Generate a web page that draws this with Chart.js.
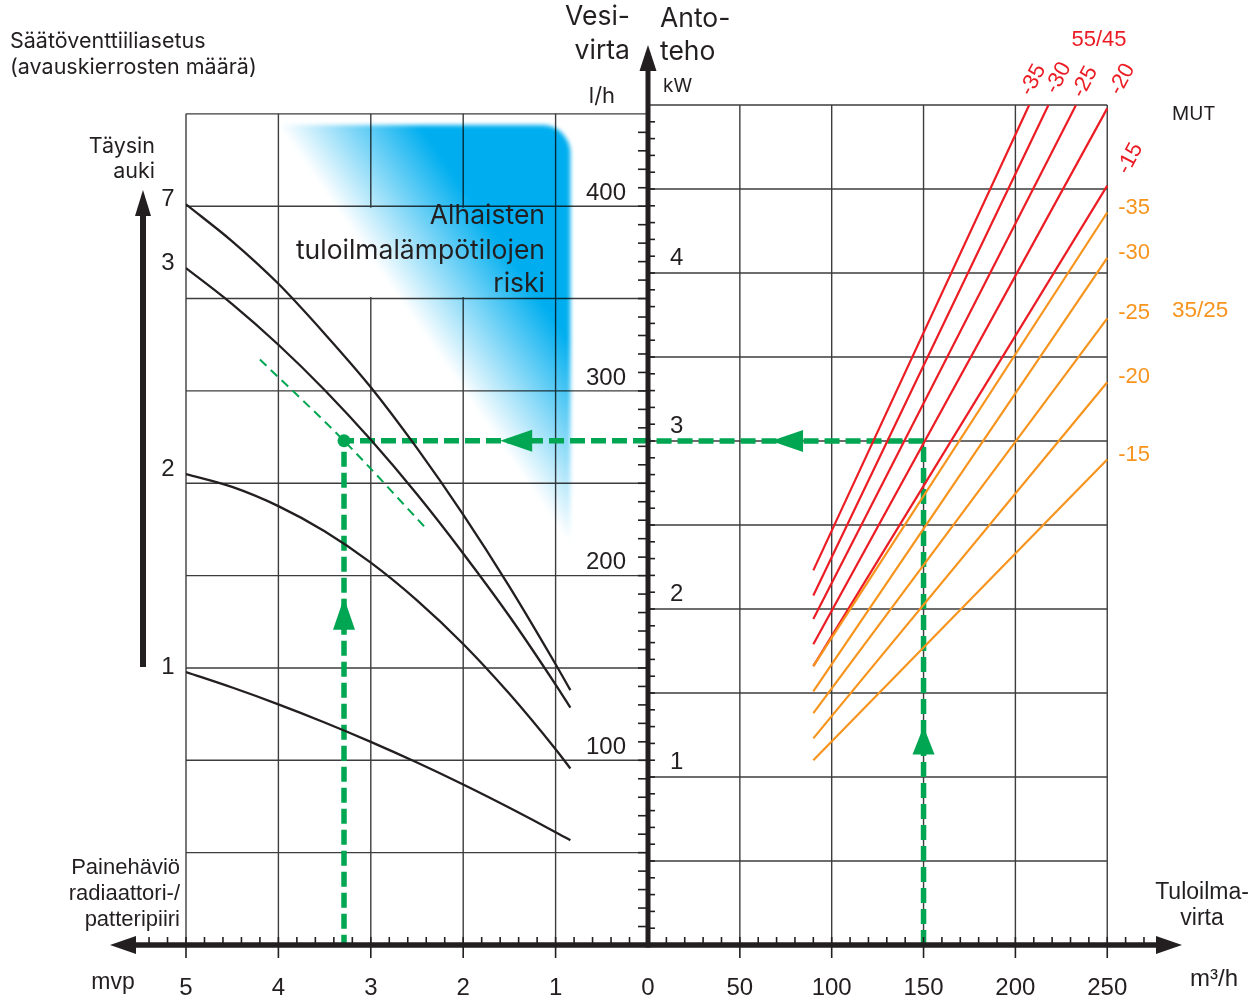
<!DOCTYPE html>
<html lang="fi">
<head>
<meta charset="utf-8">
<title>Säätöventtiiliasetus</title>
<script src="https://cdn.jsdelivr.net/npm/chart.js@4.4.1/dist/chart.umd.min.js"></script>
<style>
  html, body { margin: 0; padding: 0; background: #fff; }
  #chart { display: block; }
</style>
</head>
<body>
<canvas id="chart" width="1253" height="997"></canvas>
<script>
// tick labels
const mvpTicks = [5, 4, 3, 2, 1];
const airTicks = [50, 100, 150, 200, 250];
const flowTicks = [100, 200, 300, 400];
const powerTicks = [1, 2, 3, 4];

// painehäviö (mvp) vs vesivirta (l/h), one curve per valve setting
const valveSettings = ['7', '3', '2', '1'];
const curveMvp = [5, 4.5, 4, 3.5, 3, 2.5, 2, 1.5, 1, 0.84];
const flow7 = [401, 381, 358, 331, 302, 269, 233, 194, 152, 138];
const flow3 = [366.5, 347, 325, 300.5, 273.5, 244, 212, 178, 141, 128.5];
const flow2 = [255, 248, 237.6, 224, 207, 186.6, 163, 136, 106, 95.6];
const flow1 = [147.8, 139.4, 130.3, 120.5, 110, 98.8, 86.9, 74.3, 61.1, 56.7];

// antoteho (kW) vs tuloilmavirta (m3/h), one line per MUT
const mutLabels = ['-35', '-30', '-25', '-20', '-15'];
const airStart = 90;
const redKwStart = [2.23, 2.08, 1.94, 1.79, 1.66];      // 55/45
const redAirEnd = [207.5, 218, 233, 250, 250];
const redKwEnd = [5, 5, 5, 4.98, 4.52];
const orangeKwStart = [1.66, 1.51, 1.38, 1.23, 1.10];   // 35/25
const orangeAirEnd = [250, 250, 250, 250, 250];
const orangeKwEnd = [4.36, 4.09, 3.73, 3.35, 2.89];

// example reading (green)
const routeAir = 150, routePower = 3.0, routeFlow = 273, routeMvp = 3.29;
const guideMvp = [4.2, 3.29, 2.41];
const guideFlow = [317, 273, 226];
const arrowAir = [150, 67], arrowKw = [1.30, 3.0];
const arrowMvp = [1.6, 3.29], arrowFlow = [273, 188];

// low supply temperature risk zone
const riskMvp = [4.0, 0.84];
const riskFlow = [444, 217];

const BLACK = '#231f20', RED = '#ec1c24', ORANGE = '#f7941d', GREEN = '#00a651', GRID = '#3d3d3d';
const NUM = '"Liberation Sans", Arial, sans-serif';
const TXT = 'Inter, "Noto Sans", sans-serif';

const pts = (xs, ys) => xs.map((x, i) => ({ x: x, y: ys[i] }));
const P = (s, v) => s.getPixelForValue(v);

function seg(ctx, x1, y1, x2, y2) {
  ctx.beginPath(); ctx.moveTo(x1, y1); ctx.lineTo(x2, y2); ctx.stroke();
}
function head(ctx, tx, ty, dx, dy, len, half, color) {
  const bx = tx - dx * len, by = ty - dy * len;
  ctx.fillStyle = color;
  ctx.beginPath();
  ctx.moveTo(tx, ty);
  ctx.lineTo(bx - dy * half, by + dx * half);
  ctx.lineTo(bx + dy * half, by - dx * half);
  ctx.closePath();
  ctx.fill();
}
function text(ctx, str, x, y, font, color, align) {
  ctx.font = font;
  ctx.fillStyle = color;
  ctx.textAlign = align || 'center';
  ctx.textBaseline = 'middle';
  ctx.fillText(str, x, y);
}

const datasets = [];
[flow7, flow3, flow2, flow1].forEach(function (fl, i) {
  datasets.push({
    label: 'Säätö ' + valveSettings[i], data: pts(curveMvp, fl), xAxisID: 'xp', yAxisID: 'yL',
    borderColor: BLACK, borderWidth: 2.3, cubicInterpolationMode: 'monotone', pointRadius: 0
  });
});
mutLabels.forEach(function (m, i) {
  datasets.push({
    label: '35/25 ' + m, data: [{ x: airStart, y: orangeKwStart[i] }, { x: orangeAirEnd[i], y: orangeKwEnd[i] }],
    xAxisID: 'xq', yAxisID: 'yR', borderColor: ORANGE, borderWidth: 2.2, pointRadius: 0
  });
});
mutLabels.forEach(function (m, i) {
  datasets.push({
    label: '55/45 ' + m, data: [{ x: airStart, y: redKwStart[i] }, { x: redAirEnd[i], y: redKwEnd[i] }],
    xAxisID: 'xq', yAxisID: 'yR', borderColor: RED, borderWidth: 2.2, pointRadius: 0
  });
});
datasets.push({
  label: 'guide', data: pts(guideMvp, guideFlow), xAxisID: 'xp', yAxisID: 'yL',
  borderColor: GREEN, borderWidth: 2, borderDash: [9, 6], cubicInterpolationMode: 'monotone', pointRadius: 0
});
datasets.push({
  label: 'route right', data: [{ x: routeAir, y: 0 }, { x: routeAir, y: routePower }, { x: 0, y: routePower }],
  xAxisID: 'xq', yAxisID: 'yR', borderColor: GREEN, borderWidth: 5.5, borderDash: [15, 6], pointRadius: 0, tension: 0
});
datasets.push({
  label: 'route left', data: [{ x: 0, y: routeFlow }, { x: routeMvp, y: routeFlow }, { x: routeMvp, y: 0 }],
  xAxisID: 'xp', yAxisID: 'yL', borderColor: GREEN, borderWidth: 5.5, borderDash: [15, 6], pointRadius: 0, tension: 0
});
datasets.push({
  label: 'point', data: [{ x: routeMvp, y: routeFlow }], xAxisID: 'xp', yAxisID: 'yL',
  showLine: false, pointRadius: 6.5, pointBackgroundColor: GREEN, pointBorderWidth: 0
});

const overlay = {
  id: 'overlay',
  beforeDatasetsDraw(chart) {
    const ctx = chart.ctx;
    const { xp, xq, yL, yR } = chart.scales;
    const cx = P(xp, 0), base = P(yL, 0);
    ctx.save();
    ctx.strokeStyle = GRID;
    ctx.lineWidth = 1.4;
    // left panel grid
    const lx = P(xp, 5), ly = P(yL, 450);
    for (let f = 50; f <= 450; f += 50) seg(ctx, lx, P(yL, f), cx, P(yL, f));
    for (let m = 5; m >= 1; m--) seg(ctx, P(xp, m), ly, P(xp, m), base);
    // right panel grid
    const rx = P(xq, 250), ry = P(yR, 5);
    for (let k = 0.5; k <= 5.001; k += 0.5) seg(ctx, cx, P(yR, k), rx, P(yR, k));
    for (let a = 50; a <= 250; a += 50) seg(ctx, P(xq, a), ry, P(xq, a), base);
    // white box behind the zone text
    ctx.fillStyle = '#fff';
    ctx.fillRect(P(xp, 3.75), P(yL, 400) + 1.5, P(xp, 1.12) - P(xp, 3.75), P(yL, 350) - P(yL, 400) - 3);
    // risk zone
    const x1 = P(xp, riskMvp[0]), x2 = P(xp, riskMvp[1]);
    const y1 = P(yL, riskFlow[0]), y2 = P(yL, riskFlow[1]);
    const r = 28;
    const dx = x2 - x1, dy = y2 - y1, dl = Math.hypot(dx, dy);
    const nx = dy / dl, ny = -dx / dl;
    const mx = (x1 + x2) / 2, my = (y1 + y2) / 2;
    const g = ctx.createLinearGradient(mx, my, mx + nx * 115, my + ny * 115);
    g.addColorStop(0, '#ffffff');
    g.addColorStop(1, '#00aeef');
    ctx.globalCompositeOperation = 'multiply';
    ctx.filter = 'blur(2px)';
    ctx.fillStyle = g;
    ctx.beginPath();
    ctx.moveTo(x1, y1);
    ctx.lineTo(x2 - r, y1);
    ctx.arcTo(x2, y1, x2, y1 + r, r);
    ctx.lineTo(x2, y2);
    ctx.closePath();
    ctx.fill();
    ctx.restore();
  },
  afterDatasetsDraw(chart) {
    const ctx = chart.ctx;
    const { xp, xq, yL, yR } = chart.scales;
    const cx = P(xp, 0), base = P(yL, 0);
    const area = chart.chartArea;
    ctx.save();

    // green arrow heads
    head(ctx, P(xq, arrowAir[0]), P(yR, arrowKw[0]), 0, -1, 28, 11, GREEN);
    head(ctx, P(xq, arrowAir[1]), P(yR, arrowKw[1]), -1, 0, 32, 11, GREEN);
    head(ctx, P(xp, arrowMvp[0]), P(yL, arrowFlow[0]), -1, 0, 32, 11, GREEN);
    head(ctx, P(xp, arrowMvp[1]), P(yL, arrowFlow[1]), 0, -1, 32, 11, GREEN);

    // axes
    ctx.strokeStyle = BLACK;
    ctx.lineWidth = 5.5;
    seg(ctx, area.left - 52, base, area.right + 48, base);
    head(ctx, area.left - 76, base, -1, 0, 26, 9, BLACK);
    head(ctx, area.right + 72, base, 1, 0, 26, 9, BLACK);
    ctx.lineWidth = 5;
    seg(ctx, cx, base + 2.5, cx, area.top - 36);
    head(ctx, cx, area.top - 60, 0, -1, 26, 8.5, BLACK);

    // minor ticks
    ctx.lineWidth = 1.6;
    for (let f = 10; f <= 440; f += 10) { const y = P(yL, f); seg(ctx, cx - 10, y, cx, y); }
    for (let k = 1; k <= 49; k++) { const y = P(yR, k / 10); seg(ctx, cx, y, cx + 7, y); }
    for (let m = 1; m <= 27; m++) { const x = P(xp, m / 5); seg(ctx, x, base - 8, x, base); }
    for (let a = 10; a <= 270; a += 10) { const x = P(xq, a); seg(ctx, x, base - 8, x, base); }
    // major ticks
    mvpTicks.forEach(m => seg(ctx, P(xp, m), base, P(xp, m), base + 13));
    airTicks.forEach(a => seg(ctx, P(xq, a), base, P(xq, a), base + 13));

    // tick labels
    const f24 = '24px ' + NUM;
    mvpTicks.forEach(m => text(ctx, String(m), P(xp, m), base + 43, f24, BLACK));
    text(ctx, '0', cx, base + 43, f24, BLACK);
    airTicks.forEach(a => text(ctx, String(a), P(xq, a), base + 43, f24, BLACK));
    flowTicks.forEach(f => text(ctx, String(f), cx - 22, P(yL, f) - 13, f24, BLACK, 'right'));
    powerTicks.forEach(k => text(ctx, String(k), cx + 22, P(yR, k) - 15, f24, BLACK, 'left'));

    // valve setting labels at curve starts
    [flow7, flow3, flow2, flow1].forEach((fl, i) => text(ctx, valveSettings[i], P(xp, 5) - 18, P(yL, fl[0]) - 5, f24, BLACK));

    // MUT labels
    const redDx = [4, 10, 9, 15, 23], redDy = [-25, -27, -23, -29, -27];
    const f22 = '22px ' + NUM;
    mutLabels.forEach((m, i) => {
      ctx.save();
      ctx.translate(P(xq, redAirEnd[i]) + redDx[i], P(yR, redKwEnd[i]) + redDy[i]);
      ctx.rotate(-62 * Math.PI / 180);
      text(ctx, m, 0, 0, f22, RED);
      ctx.restore();
      text(ctx, m, P(xq, orangeAirEnd[i]) + 11, P(yR, orangeKwEnd[i]) - 5, f22, ORANGE, 'left');
    });
    text(ctx, '55/45', 1099, 40, f22, RED);
    text(ctx, '35/25', 1172, 311, '22.5px ' + NUM, ORANGE, 'left');
    text(ctx, 'MUT', 1172, 114, '19px ' + TXT, BLACK, 'left');

    // titles and notes
    const f21 = '21.5px ' + TXT;
    text(ctx, 'Säätöventtiiliasetus', 10, 42, f21, BLACK, 'left');
    text(ctx, '(avauskierrosten määrä)', 10, 68, f21, BLACK, 'left');
    text(ctx, 'Täysin', 155, 147, f21, BLACK, 'right');
    text(ctx, 'auki', 155, 172, f21, BLACK, 'right');
    const f26 = '26.5px ' + TXT;
    text(ctx, 'Vesi-', cx - 18, 17, f26, BLACK, 'right');
    text(ctx, 'virta', cx - 18, 51, f26, BLACK, 'right');
    text(ctx, 'Anto-', cx + 12, 19, f26, BLACK, 'left');
    text(ctx, 'teho', cx + 12, 52, f26, BLACK, 'left');
    text(ctx, 'l/h', cx - 46, 96, '22px ' + TXT, BLACK);
    text(ctx, 'kW', cx + 15, 86, '19px ' + TXT, BLACK, 'left');
    text(ctx, 'Alhaisten', 545, 216, f26, BLACK, 'right');
    text(ctx, 'tuloilmalämpötilojen', 545, 251, f26, BLACK, 'right');
    text(ctx, 'riski', 545, 284, f26, BLACK, 'right');
    const f22n = '22px ' + NUM;
    text(ctx, 'Painehäviö', 180, 868, f22n, BLACK, 'right');
    text(ctx, 'radiaattori-/', 180, 894, f22n, BLACK, 'right');
    text(ctx, 'patteripiiri', 180, 920, f22n, BLACK, 'right');
    const f23n = '23px ' + NUM;
    text(ctx, 'mvp', 113, 983, f23n, BLACK);
    text(ctx, 'Tuloilma-', 1202, 893, f23n, BLACK);
    text(ctx, 'virta', 1202, 919, f23n, BLACK);
    text(ctx, 'm³/h', 1214, 979, '24px ' + NUM, BLACK);

    // valve opening arrow
    ctx.strokeStyle = BLACK;
    ctx.lineWidth = 6;
    seg(ctx, 143, 667, 143, 212);
    head(ctx, 143, 190, 0, -1, 26, 8, BLACK);
    ctx.restore();
  }
};

new Chart(document.getElementById('chart'), {
  type: 'line',
  data: { datasets: datasets },
  options: {
    responsive: false,
    animation: false,
    events: [],
    layout: { padding: { left: 186, right: 143, top: 105, bottom: 52 } },
    plugins: { legend: { display: false }, tooltip: { enabled: false } },
    scales: {
      xp: { type: 'linear', position: 'bottom', min: -5, max: 5, reverse: true, display: false },
      xq: { type: 'linear', position: 'bottom', min: -251.5, max: 251.5, display: false },
      yL: { type: 'linear', position: 'left', min: 0, max: 454.8, display: false },
      yR: { type: 'linear', position: 'right', min: 0, max: 5, display: false }
    }
  },
  plugins: [overlay]
});
</script>
</body>
</html>
